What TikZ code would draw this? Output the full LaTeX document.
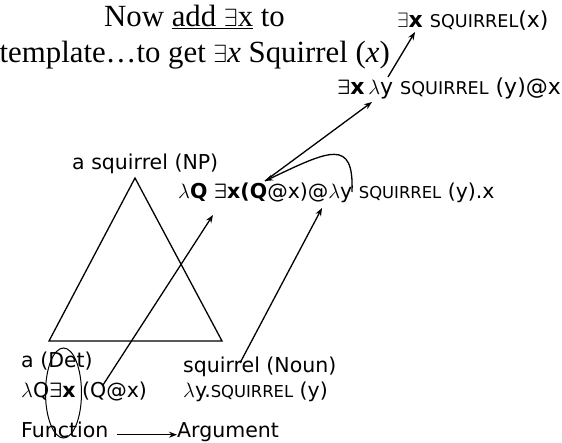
\documentclass[tikz,border=0pt]{standalone}
\usepackage{fontspec}
\setmainfont{Liberation Serif}
\newfontfamily\sansf{DejaVu Sans}
\usetikzlibrary{arrows.meta}
\newcommand{\squirrelsc}{\scalebox{0.8}{SQUIRREL}}
\newcommand{\bex}{{\boldmath$\exists$}}

\begin{document}
\begin{tikzpicture}[x=1pt, y=-1pt,
    lbl/.style={font=\sansf\fontsize{20.5}{24}\selectfont, inner sep=0, anchor=base west},
    biglbl/.style={lbl, font=\sansf\fontsize{22}{26}\selectfont},
    note/.style={font=\fontsize{30.8}{36}\selectfont, inner sep=0},
    arr/.style={-{Stealth[length=8pt,width=6pt]}, line width=1.3pt}]
    \useasboundingbox (0,0) rectangle (562,443);

    % Remark at the top
    \node[note, anchor=base west] (now) at (104,27) {Now \underline{add $\exists$x} to};
    \node[note, anchor=base east] (tpl) at (390,63) {template…to get $\exists$\textit{x} Squirrel (\textit{x})};

    % Reductions
    \node[biglbl] (top) at (397,28) {$\exists$\textbf{x} \squirrelsc(x)};
    \node[biglbl] (mid) at (337,95) {\bex\textbf{x}\,$\lambda$y \squirrelsc{} (y)@x};
    \node[lbl] (main) at (178,199) {$\lambda$\textbf{Q} \bex\textbf{x(Q}@x)@$\lambda$y \squirrelsc{} (y).x};

    % Tree
    \node[lbl] (np) at (72,170) {a squirrel (NP)};
    \draw[line width=1.3pt] (135,178) -- (222,341) -- (49,341) -- cycle;
    \node[lbl] (det) at (21,367) {a (Det)};
    \node[lbl] (detsem) at (21,397) {$\lambda$Q\bex\textbf{x} (Q@x)};
    \node[lbl] (noun) at (183,372) {squirrel (Noun)};
    \node[lbl] (nounsem) at (183,397) {$\lambda$y.\squirrelsc{} (y)};
    \draw[line width=1pt] (63.5,393) ellipse (18pt and 45pt);

    \node[lbl] (fn) at (21,437) {Function};
    \node[lbl] (argm) at (177,437) {Argument};
    \draw[arr, shorten <=8pt] (fn.mid east) -- (argm.mid west);

    % Ends of the arrows inside the texts
    \coordinate (detQ) at (103,385);
    \coordinate (mainEx) at (213,215);
    \coordinate (nounR) at (240,363);
    \coordinate (mainAt) at (322,208);
    \coordinate (mainQ) at (265,181);
    \coordinate (midLam) at (372,102);
    \coordinate (mainLam) at (352,192);
    \coordinate (midY) at (388,77);
    \coordinate (topEx) at (415,32);

    \draw[arr] (detQ) -- (mainEx);
    \draw[arr] (nounR) -- (mainAt);
    \draw[arr] (mainQ) -- (midLam);
    \draw[arr] (mainLam) .. controls (354,138) and (330,150) .. (mainQ);
    \draw[arr] (midY) -- (topEx);
\end{tikzpicture}
\end{document}
